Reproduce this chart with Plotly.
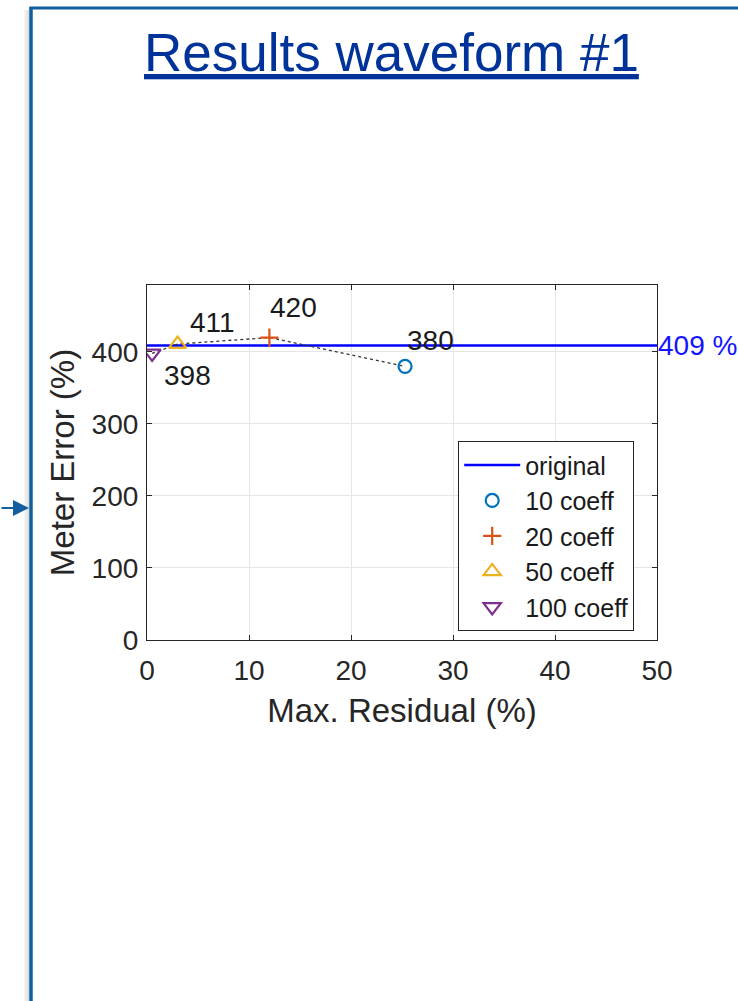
import plotly.graph_objects as go

# Meter error vs. max residual for truncated coefficient sets
coeff_names = ["10 coeff", "20 coeff", "50 coeff", "100 coeff"]
max_residual = [25.3, 12.0, 3.0, 0.5]
meter_error = [380, 420, 411, 398]
original_error = 409
x_ticks = [0, 10, 20, 30, 40, 50]
y_ticks = [0, 100, 200, 300, 400]

symbols = ["circle-open", "cross-thin-open", "triangle-up-open", "triangle-down-open"]
colors = ["#0072BD", "#D95319", "#EDB120", "#7E2F8E"]
sizes = [13, 13, 15, 15]
label_shift = [(25, 26), (24, 30), (35, 22), (35, -22)]

W, H = 738, 1001
L, R, T, B = 147, 657, 285, 640
AX = "#262626"
FONT = "Liberation Sans, Arial, sans-serif"

fig = go.Figure()

fig.add_trace(go.Scatter(
    x=[x_ticks[0], x_ticks[-1]], y=[original_error, original_error],
    mode="lines", line=dict(color="#0000FF", width=2.5), name="original"))

# dotted connector through the points, ordered by residual
order = sorted(range(len(max_residual)), key=lambda i: max_residual[i])
fig.add_trace(go.Scatter(
    x=[max_residual[i] for i in order], y=[meter_error[i] for i in order],
    mode="lines", line=dict(color="#333333", width=1.3, dash="dot"),
    showlegend=False, hoverinfo="skip"))

for name, xv, yv, sym, col, sz in zip(coeff_names, max_residual, meter_error, symbols, colors, sizes):
    fig.add_trace(go.Scatter(
        x=[xv], y=[yv], mode="markers", name=name,
        marker=dict(symbol=sym, size=sz, color=col, line=dict(color=col, width=2.2))))

for xv, yv, (dx, dy) in zip(max_residual, meter_error, label_shift):
    fig.add_annotation(x=xv, y=yv, xref="x", yref="y", text=str(yv), showarrow=False,
                       xanchor="center", yanchor="middle",
                       xshift=dx, yshift=dy, font=dict(family=FONT, size=28, color="#1a1a1a"))

fig.add_annotation(x=x_ticks[-1], y=original_error, xref="x", yref="y",
                   text=f"{original_error} %", showarrow=False, xanchor="left",
                   yanchor="middle", xshift=-1,
                   font=dict(family=FONT, size=28, color="#1414FF"))

# slide title
fig.add_annotation(x=391 / W, y=1 - 52 / H, xref="paper", yref="paper",
                   xanchor="center", yanchor="middle",
                   text="<u>Results waveform #1</u>", showarrow=False,
                   font=dict(family=FONT, size=53, color="#003399"))

# slide frame with soft shadow and connector arrow
BLUE = "#135E9E"
for i, c in enumerate(["#f4f4f4", "#ececec", "#e2e2e2", "#d8d8d8"]):
    fig.add_shape(type="rect", xref="paper", yref="paper",
                  x0=(24 + i * 1.5) / W, x1=29 / W, y0=0, y1=1 - 10 / H,
                  line=dict(width=0), fillcolor=c, layer="below")
fig.add_shape(type="line", xref="paper", yref="paper", x0=31 / W, x1=31 / W,
              y0=0, y1=1 - 7 / H, line=dict(color=BLUE, width=3.5))
fig.add_shape(type="line", xref="paper", yref="paper", x0=29.5 / W, x1=1,
              y0=1 - 8 / H, y1=1 - 8 / H, line=dict(color=BLUE, width=3))
fig.add_annotation(x=29 / W, y=1 - 508 / H, xref="paper", yref="paper", ax=-30, ay=0,
                   text="", showarrow=True, arrowhead=2,
                   arrowsize=1.6, arrowwidth=2, arrowcolor=BLUE)

axis_common = dict(showline=True, linecolor=AX, linewidth=1.2, mirror="ticks",
                   ticks="inside", ticklen=5, tickcolor=AX, showgrid=True,
                   gridcolor="#e6e6e6", gridwidth=1, zeroline=False, automargin=False,
                   tickfont=dict(family=FONT, size=28, color=AX))

fig.update_layout(
    width=W, height=H, margin=dict(l=0, r=0, t=0, b=0),
    paper_bgcolor="white", plot_bgcolor="white",
    xaxis=dict(domain=[L / W, R / W], range=[0, 50], tickvals=x_ticks, ticklabelstandoff=5,
               title=dict(text="Max. Residual (%)", font=dict(family=FONT, size=33, color=AX), standoff=14),
               **axis_common),
    yaxis=dict(domain=[1 - B / H, 1 - T / H], range=[0, 493], tickvals=y_ticks, ticklabelstandoff=2,
               title=dict(text="Meter Error (%)", font=dict(family=FONT, size=33, color=AX), standoff=7),
               **axis_common),
    legend=dict(x=458 / W, y=1 - 441 / H, xanchor="left", yanchor="top",
                bgcolor="white", bordercolor=AX, borderwidth=1.2,
                font=dict(family=FONT, size=25, color="#1a1a1a"),
                itemwidth=56, tracegroupgap=0),
    showlegend=True,
)

fig.write_html("out.html")
